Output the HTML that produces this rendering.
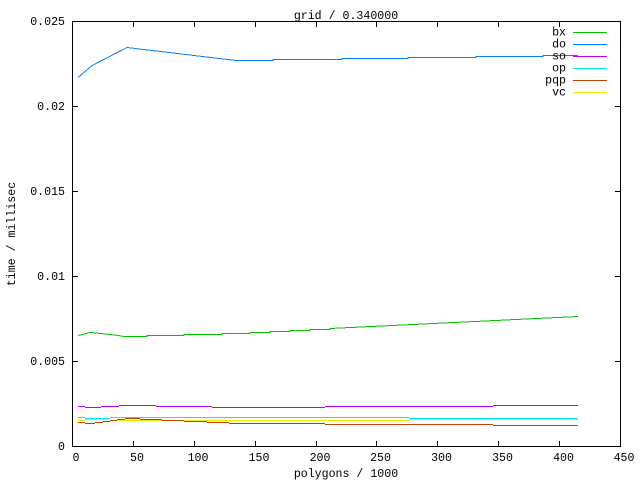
<!DOCTYPE html>
<html>
<head>
<meta charset="utf-8">
<style>
html,body{margin:0;padding:0;background:#fff;}
svg{display:block;}
text{font-family:"Liberation Mono","DejaVu Sans Mono",monospace;font-size:11.6px;fill:#000;}
</style>
</head>
<body>
<svg width="640" height="480" viewBox="0 0 640 480" xmlns="http://www.w3.org/2000/svg">
<rect width="640" height="480" fill="#fff"/>

<!-- title -->
<text x="346" y="19" text-anchor="middle">grid / 0.340000</text>

<!-- border -->
<rect x="72.5" y="21.5" width="548" height="425" fill="none" stroke="#000" stroke-width="1" shape-rendering="crispEdges"/>

<!-- ticks -->
<g stroke="#000" stroke-width="1" shape-rendering="crispEdges">
  <!-- y ticks left & right -->
  <path d="M72 361.5h6M72 276.5h6M72 191.5h6M72 106.5h6
           M615 361.5h6M615 276.5h6M615 191.5h6M615 106.5h6"/>
  <!-- x ticks bottom & top -->
  <path d="M133.5 441v6M194.5 441v6M255.5 441v6M316.5 441v6M376.5 441v6M437.5 441v6M498.5 441v6M559.5 441v6
           M133.5 21v6M194.5 21v6M255.5 21v6M316.5 21v6M376.5 21v6M437.5 21v6M498.5 21v6M559.5 21v6"/>
</g>

<!-- y tick labels -->
<g text-anchor="end">
  <text x="65" y="450">0</text>
  <text x="65" y="365">0.005</text>
  <text x="65" y="280">0.01</text>
  <text x="65" y="195">0.015</text>
  <text x="65" y="110">0.02</text>
  <text x="65" y="25">0.025</text>
</g>

<!-- x tick labels -->
<g text-anchor="middle">
  <text x="76" y="461">0</text>
  <text x="137" y="461">50</text>
  <text x="198" y="461">100</text>
  <text x="259" y="461">150</text>
  <text x="320" y="461">200</text>
  <text x="380.5" y="461">250</text>
  <text x="441.5" y="461">300</text>
  <text x="502.5" y="461">350</text>
  <text x="563.5" y="461">400</text>
  <text x="624" y="461">450</text>
</g>

<!-- axis labels -->
<text x="346" y="477" text-anchor="middle">polygons / 1000</text>
<text transform="translate(15,234) rotate(-90)" text-anchor="middle">time / millisec</text>

<!-- series -->
<g fill="none" stroke-width="1" shape-rendering="crispEdges">
  <!-- do (blue) -->
  <polyline stroke="#0080ff" points="78,77.5 92,65.5 127,47.5 236,60.5 273,60.5 273,59.5 342,59.5 342,58.5 408,58.5 408,57.5 476,57.5 476,56.5 543,56.5 543,55.5 578,55.5"/>
  <!-- bx (green) -->
  <polyline stroke="#00c000" points="78,335.5 90,332.5 96,333 105,334 115,335 124,336.5 147,336.5 147,335.5 184,335.5 184,334.5 222,334.5 222,333.5 250,333.5 250,332.5 270,332.5 270,331.5 290,331.5 290,330.5 310,330.5 310,329.5 330,329.5 330,328.5 578,316.5"/>
  <!-- so (purple) -->
  <path stroke="#c000ff" d="M78 406.5H85M85 407.5H101M101 406.5H119M119 405.5H156M156 406.5H212M212 407.5H325M325 406.5H493M493 405.5H578"/>
  <!-- op (cyan) -->
  <path stroke="#00eeee" d="M78 417.5H85M85 418.5H110M110 417.5H409M409 418.5H578"/>
  <!-- vc (yellow) -->
  <path stroke="#eeee00" d="M78 420.5H85M85 419.5H110M110 420.5H409M409 419.5H578"/>
  <!-- pqp (brown) -->
  <path stroke="#c04000" d="M78 422.5H85M85 423.5H95M95 422.5H103M103 421.5H110M110 420.5H117M117 419.5H125M125 418.5H140M140 419.5H162M162 420.5H184M184 421.5H207M207 422.5H229M229 423.5H325M325 424.5H493M493 425.5H578"/>
</g>

<!-- legend -->
<g text-anchor="end">
  <text x="566" y="35.5">bx</text>
  <text x="566" y="47.5">do</text>
  <text x="566" y="59.5">so</text>
  <text x="566" y="71.5">op</text>
  <text x="566" y="83.5">pqp</text>
  <text x="566" y="95.5">vc</text>
</g>
<g stroke-width="1" shape-rendering="crispEdges">
  <path stroke="#00c000" d="M573 32.5H607"/>
  <path stroke="#0080ff" d="M573 44.5H607"/>
  <path stroke="#c000ff" d="M573 56.5H607"/>
  <path stroke="#00eeee" d="M573 68.5H607"/>
  <path stroke="#c04000" d="M573 80.5H607"/>
  <path stroke="#eeee00" d="M573 92.5H607"/>
</g>
</svg>
</body>
</html>
